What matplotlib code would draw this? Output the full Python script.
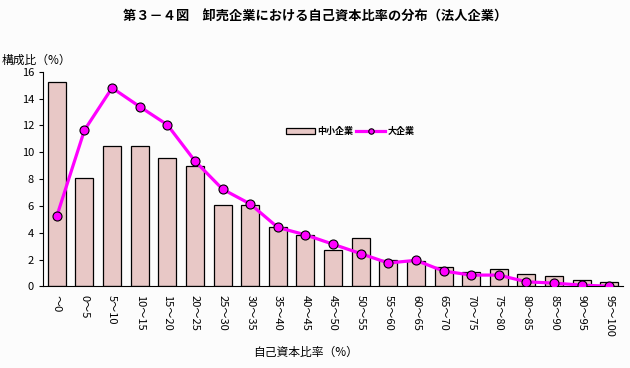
import numpy as np
import matplotlib.pyplot as plt

plt.rcParams['font.family'] = ['Noto Sans CJK JP', 'DejaVu Sans']

# 自己資本比率の階級
categories = ['～0', '0～5', '5～10', '10～15', '15～20', '20～25', '25～30',
              '30～35', '35～40', '40～45', '45～50', '50～55', '55～60',
              '60～65', '65～70', '70～75', '75～80', '80～85', '85～90',
              '90～95', '95～100']
# 中小企業（棒）
chusho = [15.2, 8.1, 10.5, 10.45, 9.55, 9.0, 6.1, 6.1, 4.4, 3.85, 2.7,
          3.6, 2.0, 1.9, 1.45, 1.1, 1.3, 0.95, 0.8, 0.5, 0.3]
# 大企業（折れ線）
dai = [5.25, 11.65, 14.8, 13.4, 12.05, 9.35, 7.25, 6.15, 4.4, 3.85, 3.15,
       2.45, 1.75, 1.95, 1.15, 0.85, 0.85, 0.35, 0.25, 0.1, 0.02]

fig = plt.figure(figsize=(6.3, 3.68), dpi=100)
fig.patch.set_facecolor('#fcfcfc')
ax = fig.add_axes([0.0683, 0.2215, 0.9207, 0.5835])
ax.set_facecolor('#fcfcfc')

x = np.arange(len(categories))
bars = ax.bar(x, chusho, width=0.65, color='#e8c8c6', edgecolor='black',
              linewidth=0.9, label='中小企業', zorder=2)
line, = ax.plot(x, dai, color='#ff00ff', linewidth=2.3, marker='o',
                markersize=6.5, markerfacecolor='#ff00ff',
                markeredgecolor='black', markeredgewidth=0.8,
                label='大企業', zorder=3)

ax.set_xlim(-0.5, len(categories) - 0.5)
ax.set_ylim(0, 16)
ax.set_yticks(range(0, 17, 2))
ax.set_xticks(x)
ax.set_xticklabels(categories, rotation=-90, fontsize=8)
ax.tick_params(axis='y', labelsize=8, length=3, direction='out')
ax.tick_params(axis='x', length=0, pad=6)
ax.spines['top'].set_visible(False)
ax.spines['right'].set_visible(False)

ax.legend([bars, line], ['中小企業', '大企業'], loc='center left',
          bbox_to_anchor=(0.405, 0.72), ncol=2, frameon=False,
          handlelength=3.2, handleheight=0.6, columnspacing=0.3,
          handletextpad=0.3, markerscale=0.6,
          prop={'weight': 'bold', 'size': 6.5})

fig.text(0.5, 0.955, '第３－４図　卸売企業における自己資本比率の分布（法人企業）',
         ha='center', va='center', fontsize=9.5, fontweight='bold')
fig.text(0.003, 0.835, '構成比（%）', ha='left', va='center', fontsize=8.5)
fig.text(0.485, 0.043, '自己資本比率（%）', ha='center', va='center', fontsize=8.5)

fig.savefig('out.png', dpi=100, facecolor=fig.get_facecolor())
